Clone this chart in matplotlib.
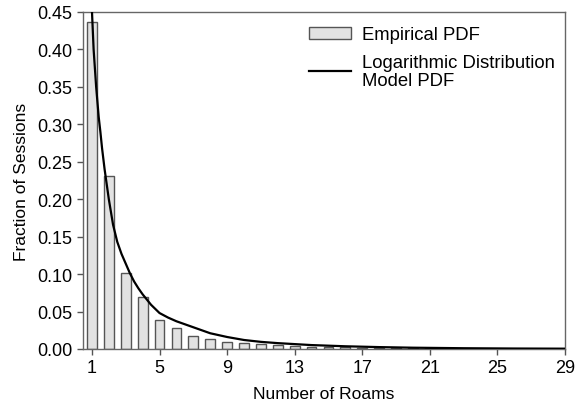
import numpy as np
import matplotlib.pyplot as plt

plt.rcParams['font.family'] = ['Liberation Sans', 'DejaVu Sans']

# empirical fraction of sessions per number of roams
roams = np.arange(1, 23)
empirical = [0.437, 0.231, 0.102, 0.069, 0.039, 0.0276, 0.0174, 0.0138, 0.009, 0.0075,
             0.006, 0.0048, 0.004, 0.0033, 0.0027, 0.0022, 0.0018, 0.0014, 0.0011, 0.0009,
             0.0007, 0.0005]

# fitted logarithmic distribution curve
model_x = [1.0, 1.1, 1.25, 1.4, 1.5, 1.6, 1.75, 1.9, 2.0, 2.25, 2.5, 2.75, 3.0, 3.25, 3.5,
           3.75, 4.0, 4.5, 5.0, 5.5, 6.0, 6.5, 7.0, 7.5, 8.0, 9.0, 10.0, 11.0, 12.0, 14.0,
           16.0, 18.0, 20.0, 23.0, 26.0, 29.0]
model_y = [0.452, 0.40, 0.35, 0.31, 0.29, 0.268, 0.24, 0.216, 0.20, 0.166, 0.143, 0.127,
           0.114, 0.101, 0.090, 0.081, 0.073, 0.059, 0.048, 0.042, 0.037, 0.033, 0.029,
           0.025, 0.021, 0.016, 0.012, 0.0095, 0.0078, 0.0052, 0.0036, 0.0025, 0.0017,
           0.001, 0.0006, 0.0004]

fs = 13

fig = plt.figure(figsize=(5.75, 4.06), dpi=100)
ax = fig.add_axes([0.1443, 0.138, 0.8383, 0.830])

bars = ax.bar(roams, empirical, width=0.58, color='#e2e2e2', edgecolor='#555555',
              linewidth=1.0, zorder=2)
line, = ax.plot(model_x, model_y, color='black', linewidth=1.6, zorder=3)

ax.set_xlim(0.47, 29)
ax.set_ylim(0, 0.45)
ax.set_xticks([1, 5, 9, 13, 17, 21, 25, 29])
ax.set_yticks(np.arange(0, 0.451, 0.05))
ax.yaxis.set_major_formatter(plt.FormatStrFormatter('%.2f'))
ax.tick_params(labelsize=fs, length=4, width=1, color='#555555', labelcolor='black')
for s in ax.spines.values():
    s.set_color('#666666')
    s.set_linewidth(1.0)

ax.set_xlabel('Number of Roams', fontsize=12.5, labelpad=7)
ax.set_ylabel('Fraction of Sessions', fontsize=12.5, labelpad=6)

leg = ax.legend([bars, line], ['Empirical PDF', 'Logarithmic Distribution\nModel PDF'],
                loc='upper right', bbox_to_anchor=(1.012, 1.004), frameon=False,
                fontsize=13.3, handlelength=2.3, handleheight=0.6, labelspacing=0.55,
                handletextpad=0.6, borderaxespad=0.45)
for t in leg.get_texts():
    t.set_linespacing(1.08)

fig.savefig('out.png', dpi=100)
